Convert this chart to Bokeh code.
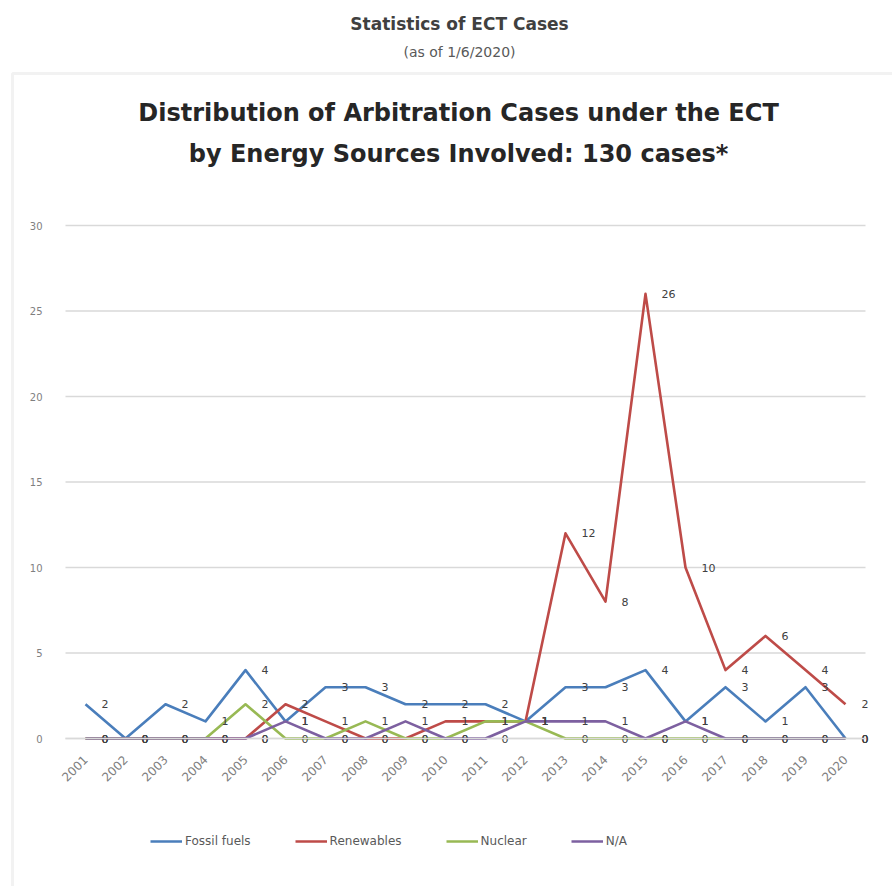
from bokeh.plotting import figure
from bokeh.models import Label, Legend, LegendItem, FixedTicker, Range1d, ColumnDataSource, BoxAnnotation
from bokeh.embed import file_html
from bokeh.resources import INLINE
from bokeh.core.properties import value
import math

years = ["2001", "2002", "2003", "2004", "2005", "2006", "2007", "2008", "2009", "2010",
         "2011", "2012", "2013", "2014", "2015", "2016", "2017", "2018", "2019", "2020"]
fossil_fuels = [2, 0, 2, 1, 4, 1, 3, 3, 2, 2, 2, 1, 3, 3, 4, 1, 3, 1, 3, 0]
renewables = [0, 0, 0, 0, 0, 2, 1, 0, 0, 1, 1, 1, 12, 8, 26, 10, 4, 6, 4, 2]
nuclear = [0, 0, 0, 0, 2, 0, 0, 1, 0, 0, 1, 1, 0, 0, 0, 0, 0, 0, 0, 0]
not_available = [0, 0, 0, 0, 0, 1, 0, 0, 1, 0, 0, 1, 1, 1, 0, 1, 0, 0, 0, 0]
series_names = ["Fossil fuels", "Renewables", "Nuclear", "N/A"]
y_ticks = [0, 5, 10, 15, 20, 25, 30]

colors = ["#4A7EBB", "#BE4B48", "#98B954", "#7D60A0"]
FONT = "DejaVu Sans"

xs = list(range(len(years)))

W, H = 892, 886
BOX_L, BOX_T = 12, 73           # chart box in page pixels
X0_PX, DX = 85, 40              # page x of first category, px per category
Y0_PX, DY = 738, 513 / 30       # page y of value 0, px per unit


def dx(px):
    return (px - X0_PX) / DX


def dy(py):
    return (Y0_PX - py) / DY


p = figure(width=W, height=H, output_backend="svg", toolbar_location=None,
           x_range=Range1d(dx(0), dx(W)), y_range=Range1d(dy(H), dy(0)),
           min_border=0)
p.outline_line_color = None
p.xgrid.visible = False
p.ygrid.visible = False

# chart box
p.add_layout(BoxAnnotation(left=dx(BOX_L), right=dx(W + 20), top=dy(BOX_T), bottom=dy(H + 20),
                           fill_alpha=0, line_color="#d4d4d4", line_width=3))

# gridlines limited to the plot area
p.segment(x0=-0.5, x1=len(years) - 0.5, y0=y_ticks, y1=y_ticks,
          line_color="#d9d9d9", line_width=1.5)

# y axis
p.yaxis.fixed_location = -0.5
p.yaxis.bounds = (0, 30)
p.yaxis.ticker = FixedTicker(ticks=y_ticks)
p.yaxis.axis_line_color = None
p.yaxis.major_tick_line_color = None
p.yaxis.minor_tick_line_color = None
p.yaxis.major_label_standoff = 17
p.yaxis.major_label_text_font = FONT
p.yaxis.major_label_text_font_size = "10px"
p.yaxis.major_label_text_color = "#7f7f7f"

# x axis
p.xaxis.fixed_location = 0
p.xaxis.bounds = (-0.5, len(years) - 0.5)
p.xaxis.ticker = FixedTicker(ticks=xs)
p.xaxis.major_label_overrides = {i: y for i, y in zip(xs, years)}
p.xaxis.axis_line_color = "#d9d9d9"
p.xaxis.axis_line_width = 1.5
p.xaxis.major_tick_line_color = None
p.xaxis.minor_tick_line_color = None
p.xaxis.major_label_orientation = math.pi / 4
p.xaxis.major_label_standoff = 13
p.xaxis.major_label_text_font = FONT
p.xaxis.major_label_text_font_size = "12px"
p.xaxis.major_label_text_color = "#7f7f7f"

items = []
all_series = [fossil_fuels, renewables, nuclear, not_available]
for name, vals, col in zip(series_names, all_series, colors):
    r = p.line(x=xs, y=vals, line_color=col, line_width=2.6, line_join="round")
    items.append(LegendItem(label=name, renderers=[r]))

for vals in all_series:
    src = ColumnDataSource(dict(x=xs, y=vals, t=[str(v) for v in vals]))
    p.text(x="x", y="y", text="t", source=src, x_offset=16, text_align="left",
           text_baseline="middle", text_font=value(FONT), text_font_size="11px",
           text_color="#404040")

legend = Legend(items=items, orientation="horizontal", location=(150, H - 848),
                label_text_font=FONT, label_text_font_size="12px", label_text_color="#595959",
                glyph_width=32, glyph_height=12, label_standoff=3, spacing=44,
                border_line_color=None, background_fill_alpha=0, padding=0, margin=0)
p.add_layout(legend, "center")


def add_text(px, py, text, size, bold=False, color="#262626"):
    p.add_layout(Label(x=px, y=H - py, x_units="screen", y_units="screen",
                       text=text, text_align="center", text_baseline="middle",
                       text_font=FONT, text_font_style="bold" if bold else "normal",
                       text_font_size=size, text_color=color))


add_text(459, 23, "Statistics of ECT Cases", "17px", bold=True, color="#404040")
add_text(459, 51, "(as of 1/6/2020)", "14px", color="#595959")
add_text(458, 112, "Distribution of Arbitration Cases under the ECT", "24px", bold=True)
add_text(458, 153, "by Energy Sources Involved: 130 cases*", "24px", bold=True)

open("out.html", "w").write(file_html(p, INLINE))
